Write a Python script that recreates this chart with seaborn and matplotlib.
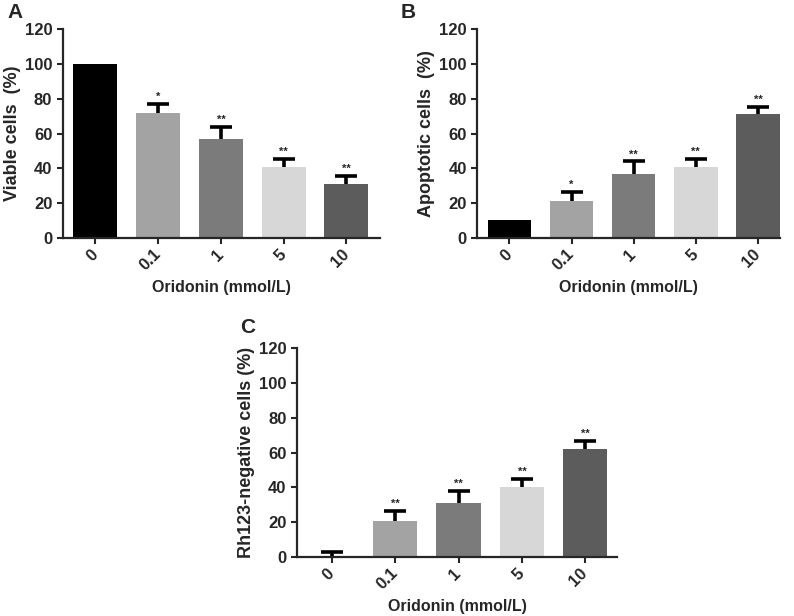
import numpy as np
import matplotlib
matplotlib.use("Agg")
import matplotlib.pyplot as plt
import seaborn as sns
import pandas as pd

# doses and bar colours
doses = ["0", "0.1", "1", "5", "10"]
bar_colors = ["#000000", "#a3a3a3", "#7b7b7b", "#d7d7d7", "#5c5c5c"]

# panel A: viable cells
viable_mean = [100, 72, 57, 41, 31]
viable_err = [0, 5, 7, 4.5, 4.6]
viable_sig = ["", "*", "**", "**", "**"]

# panel B: apoptotic cells
apopt_mean = [10.5, 21.5, 37, 41, 71]
apopt_err = [0, 5, 7, 4.5, 4.5]
apopt_sig = ["", "*", "**", "**", "**"]

# panel C: Rh123-negative cells
rh_mean = [0.5, 20.8, 31, 40.3, 61.8]
rh_err = [2.4, 5.5, 7.2, 4.8, 4.8]
rh_sig = ["", "**", "**", "**", "**"]

sns.set_style("ticks")
plt.rcParams["font.family"] = ["Liberation Sans", "DejaVu Sans"]
plt.rcParams["font.weight"] = "bold"


def draw_panel(ax, means, errs, sigs, ylabel, xlim):
    df = pd.DataFrame({"dose": doses, "value": means})
    sns.barplot(data=df, x="dose", y="value", hue="dose", palette=bar_colors,
                legend=False, width=0.7, ax=ax, errorbar=None,
                edgecolor="none", saturation=1)
    x = np.arange(len(doses))
    means = np.asarray(means, dtype=float)
    errs = np.asarray(errs, dtype=float)
    keep = errs > 0
    # upper-only error bars: zero-length line down, then hide the lower caps
    cont = ax.errorbar(x[keep], means[keep], yerr=[np.zeros(keep.sum()), errs[keep]],
                       fmt="none", ecolor="black", elinewidth=2.6, capsize=8,
                       capthick=2.6, zorder=3)
    caps = cont.lines[1]
    if len(caps) == 2:
        caps[0].set_visible(False)
    for xi, m, e, s in zip(x, means, errs, sigs):
        if s:
            ax.annotate(s, (xi, m + e), xytext=(0, 1.5), textcoords="offset points",
                        ha="center", va="bottom", fontsize=8, fontweight="bold")
    ax.set_ylim(0, 120)
    ax.set_yticks(range(0, 121, 20))
    ax.set_xlim(*xlim)
    ax.set_ylabel(ylabel, fontsize=13, fontweight="bold", labelpad=3)
    ax.set_xlabel("Oridonin (mmol/L)", fontsize=11.5, fontweight="bold", labelpad=5)
    ax.tick_params(axis="both", width=1.5, length=4, labelsize=12)
    ax.tick_params(axis="x", pad=6)
    for lab in ax.get_xticklabels():
        lab.set_rotation(45)
        lab.set_ha("right")
        lab.set_va("center")
        lab.set_rotation_mode("anchor")
        lab.set_fontweight("bold")
    for lab in ax.get_yticklabels():
        lab.set_fontweight("bold")
    for sp in ["left", "bottom"]:
        ax.spines[sp].set_linewidth(1.6)
    sns.despine(ax=ax)


fig = plt.figure(figsize=(7.94, 6.16), dpi=100)
ax_a = fig.add_axes([0.079, 0.6136, 0.400, 0.339])
ax_b = fig.add_axes([0.601, 0.6136, 0.381, 0.339])
ax_c = fig.add_axes([0.374, 0.0958, 0.403, 0.339])

draw_panel(ax_a, viable_mean, viable_err, viable_sig, "Viable cells  (%)", (-0.52, 4.54))
draw_panel(ax_b, apopt_mean, apopt_err, apopt_sig, "Apoptotic cells  (%)", (-0.52, 4.35))
draw_panel(ax_c, rh_mean, rh_err, rh_sig, "Rh123-negative cells (%)", (-0.55, 4.5))

fig.text(15 / 794, 1 - 13 / 616, "A", fontsize=15, fontweight="bold", ha="center", va="center")
fig.text(408 / 794, 1 - 12 / 616, "B", fontsize=15, fontweight="bold", ha="center", va="center")
fig.text(248 / 794, 1 - 327 / 616, "C", fontsize=15, fontweight="bold", ha="center", va="center")

fig.savefig("out.png", dpi=100)
